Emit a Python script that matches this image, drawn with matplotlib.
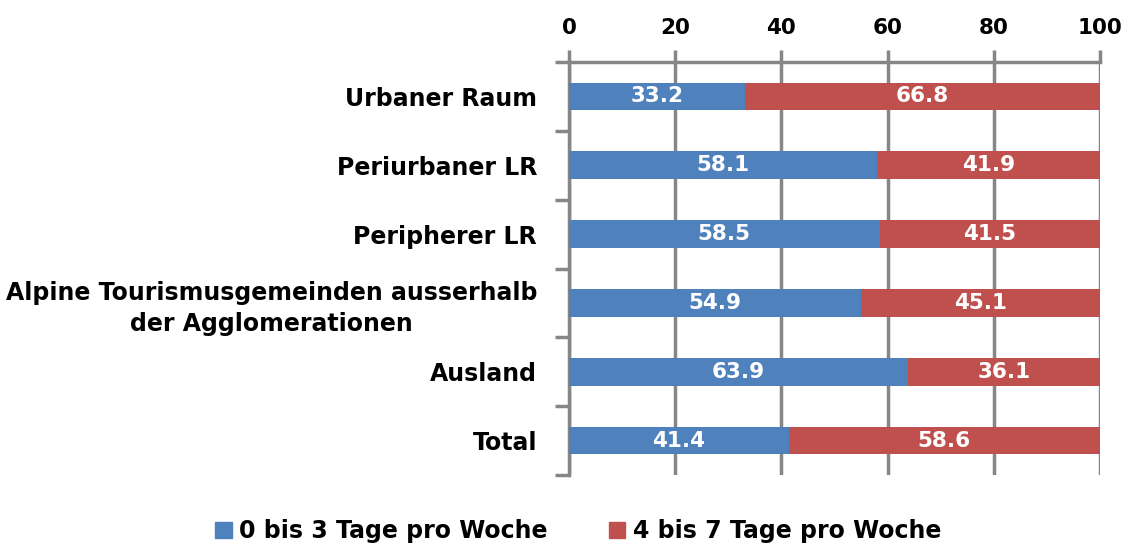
import numpy as np
import matplotlib
matplotlib.use("Agg")
import matplotlib.pyplot as plt
from matplotlib.patches import Patch

categories = ["Urbaner Raum", "Periurbaner LR", "Peripherer LR",
              "Alpine Tourismusgemeinden ausserhalb\nder Agglomerationen",
              "Ausland", "Total"]
low_days = [33.2, 58.1, 58.5, 54.9, 63.9, 41.4]
high_days = [66.8, 41.9, 41.5, 45.1, 36.1, 58.6]
series_labels = ["0 bis 3 Tage pro Woche", "4 bis 7 Tage pro Woche"]
colors = ["#4F81BD", "#C0504D"]
grid_c = "#868686"
font = "DejaVu Sans"

fig = plt.figure(figsize=(11.27, 5.43), dpi=100)
ax = fig.add_axes([0.5049, 0.1252, 0.4711, 0.7606])

y = np.arange(len(categories))
h = 0.4
b1 = ax.barh(y, low_days, height=h, color=colors[0], zorder=3)
b2 = ax.barh(y, high_days, left=low_days, height=h, color=colors[1], zorder=3)
for bars in (b1, b2):
    for b in bars:
        w = b.get_width()
        ax.text(b.get_x() + w / 2, b.get_y() + b.get_height() / 2, f"{w:.1f}",
                ha="center", va="center", color="white", fontsize=15.5,
                fontweight="bold", family=font, zorder=4)

ax.set_xlim(0, 100)
ax.set_ylim(len(categories) - 0.5, -0.5)
ax.set_xticks(np.arange(0, 101, 20))
ax.xaxis.tick_top()
ax.tick_params(axis="x", length=9, width=2.5, color=grid_c, labelsize=15.5, pad=8)
for lab in ax.get_xticklabels():
    lab.set_fontweight("bold")
    lab.set_family(font)
ax.grid(axis="x", color=grid_c, lw=2.5, zorder=0)

ax.set_yticks(y)
ax.set_yticklabels(categories, fontsize=17, fontweight="bold", family=font,
                   linespacing=1.35, multialignment="center")
ax.set_yticks(np.arange(-0.5, len(categories), 1), minor=True)
ax.tick_params(axis="y", which="major", length=0, pad=23)
ax.tick_params(axis="y", which="minor", length=10, width=2.5, color=grid_c)

for s in ["right", "bottom"]:
    ax.spines[s].set_visible(False)
for s in ["left", "top"]:
    ax.spines[s].set_color(grid_c)
    ax.spines[s].set_linewidth(2.5)

handles = [Patch(color=c, label=l) for c, l in zip(colors, series_labels)]
fig.legend(handles=handles, loc="center", bbox_to_anchor=(0.513, 0.022), ncol=2,
           frameon=False, handlelength=0.7, handleheight=0.7, handletextpad=0.3,
           columnspacing=2.6, prop={"family": font, "size": 17, "weight": "bold"})

fig.savefig("out.png", dpi=100)
